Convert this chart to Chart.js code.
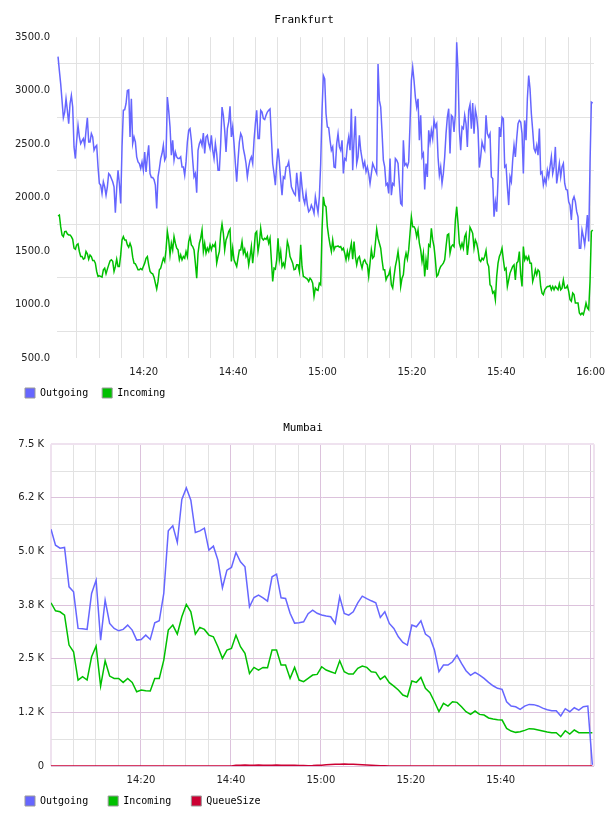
<!DOCTYPE html>
<html>
<head>
<meta charset="utf-8">
<script src="https://cdn.jsdelivr.net/npm/chart.js@4.4.1/dist/chart.umd.min.js"></script>
<style>
  html, body { margin: 0; padding: 0; background: #fff; overflow: hidden; width: 608px; height: 816px; }
  canvas { display: block; position: absolute; left: 0; }
  #frankfurt { top: 0; }
  #mumbai { top: 412px; }
</style>
</head>
<body>
<canvas id="frankfurt" width="608" height="413"></canvas>
<canvas id="mumbai" width="608" height="415"></canvas>
<script>
// ===== Data =====
// x values are minutes after 14:00
const gridMinutes = [5, 10, 15, 20, 25, 30, 35, 40, 45, 50, 55, 60, 65, 70, 75, 80, 85, 90, 95, 100, 105, 110, 115, 120];
const timeTicks = [20, 40, 60, 80, 100, 120];
const timeLabels = ['14:20', '14:40', '15:00', '15:20', '15:40', '16:00'];

// Frankfurt: one sample about every 18 s
const frankfurtStart = 0.83;
const frankfurtStep = 0.2983;
const frankfurtYTicks = [500, 750, 1000, 1250, 1500, 1750, 2000, 2250, 2500, 2750, 3000, 3250, 3500];
const frankfurtYLabels = ['500.0', '', '1000.0', '', '1500.0', '', '2000.0', '', '2500.0', '', '3000.0', '', '3500.0'];

const frankfurtOutgoing = [
  3319,3188,3064,2909,2747,2800,2924,2816,2691,2878,
  2955,2847,2474,2365,2536,2676,2567,2505,2530,2552,
  2489,2629,2747,2520,2520,2598,2567,2443,2474,2489,
  2287,2132,2117,2039,2148,2101,2023,2101,2225,2210,
  2179,2148,2101,1859,2086,2256,2132,1946,2474,2816,
  2822,2878,3002,3008,2567,2924,2505,2567,2520,2381,
  2334,2319,2272,2334,2256,2427,2241,2381,2489,2225,
  2188,2188,2169,2117,1899,2194,2272,2365,2412,2489,
  2350,2381,2940,2816,2660,2396,2536,2350,2427,2381,
  2365,2365,2381,2287,2287,2210,2334,2520,2629,
  2645,2536,2350,2194,2225,2045,2443,2505,2536,2489,
  2604,2412,2567,2583,2505,2458,2583,2443,2365,2505,
  2412,2256,2256,2505,2847,2769,2629,2427,2645,2707,
  2853,2567,2660,2505,2319,2148,2350,2520,2598,2567,
  2458,2396,2319,2194,2287,2350,2381,2319,2536,2691,
  2816,2552,2552,2816,2800,2738,2729,2769,2800,2816,
  2828,2567,2319,2225,2117,2319,2458,2334,2163,2023,
  2194,2179,2287,2294,2334,2225,2101,2070,2039,2023,
  2232,2101,1961,2241,2101,1992,1946,2039,1930,1868,
  1884,1930,1899,1853,2008,1930,1859,2008,2319,2816,
  3142,3111,
  2784,2660,2654,2536,2443,2474,2287,2281,2505,2598,
  2474,2443,2536,2225,2365,2350,2489,2567,2443,2831,
  2256,2536,2760,2319,2381,2583,2443,2365,2287,2334,
  2241,2287,2225,2132,2225,2319,2287,2256,2225,3250,
  2909,2847,2614,2350,2287,2117,2132,2039,2365,2023,
  2132,2117,2365,2350,2319,2132,1946,1930,2536,2303,
  2319,2287,2334,2691,3095,3219,3095,2940,2847,2924,
  2536,2769,2381,2412,2076,2319,2194,2629,2520,2629,
  2552,2722,2660,2691,2381,2210,2287,2132,2225,2381,
  2598,2753,2831,2412,2769,2753,2614,2784,3452,3188,
  2629,2443,
  2660,2645,2769,2691,2474,2816,2871,2645,2884,2598,
  2822,2753,2629,2281,2381,2520,2474,2443,2769,2598,
  2567,2598,2194,2179,1821,1961,1868,2163,2660,2567,
  2753,2738,2287,2303,2101,1930,2194,2148,2350,2489,
  2381,2552,2691,2722,2707,2598,2225,2722,2536,2924,
  3142,3017,2784,2629,2458,2427,2489,2396,2645,2225,
  2241,2117,2179,2132,2256,2194,2287,2381,2225,2287,
  2474,2132,2225,2319,2194,2287,2319,2132,2076,2070,
  1961,1930,1790,1977,2008,1961,1868,1821,1527,1527,
  1697,1635,1558,1682,1837,1589,2319,2893,2884
];

const frankfurtIncoming = [
  1828,1837,1728,1651,1635,1682,1685,1660,1651,1651,
  1635,1610,1527,1517,1558,1567,1496,1449,1449,1424,
  1433,1496,1474,1424,1464,1449,1412,1412,1387,1309,
  1263,1269,1263,1256,1325,1340,1287,1331,1371,1408,
  1418,1405,1309,1356,1424,1356,1356,1464,1604,1635,
  1604,1604,1558,1536,1573,1536,1443,1387,1381,1356,
  1325,1325,1337,1325,1356,1387,1433,1449,1371,1309,
  1294,1287,1256,1200,1145,1216,1325,1340,1387,1433,
  1402,1511,1682,1604,1464,1573,1511,1635,1573,1527,
  1511,1418,1464,1418,1449,1433,1496,1449,1589,
  1635,1558,1542,1511,1387,1247,1480,1573,1620,1697,
  1496,1573,1480,1527,1496,1558,1511,1558,1542,1573,
  1387,1449,1496,1666,1753,1666,1511,1604,1635,1682,
  1704,1402,1527,1418,1387,1356,1433,1511,1511,1589,
  1480,1517,1449,1480,1371,1449,1542,1387,1511,1666,
  1682,1496,1573,1713,1620,1604,1620,1610,1635,1573,
  1620,1418,1216,1340,1331,1418,1620,1418,1496,1356,
  1387,1350,1449,1589,1542,1449,1418,1387,1325,1331,
  1371,1371,1309,1558,1356,1263,1256,1247,1238,1216,
  1247,1231,1200,1076,1154,1138,1132,1200,1185,1697,
  2008,1930,
  1915,1728,1635,1558,1496,1604,1511,1542,1542,1548,
  1536,1542,1511,1527,1480,1418,1496,1433,1511,1573,
  1424,1589,1449,1371,1433,1449,1387,1340,1402,1418,
  1387,1371,1263,1387,1511,1433,1449,1573,1704,1620,
  1573,1527,1418,1325,1325,1231,1263,1278,1325,1185,
  1154,1263,1356,1418,1496,1387,1169,1247,1278,1418,
  1480,1424,1511,1666,1821,1728,1728,1704,1635,1697,
  1573,1511,1402,1480,1263,1418,1325,1558,1542,1713,
  1604,1542,1418,1263,1278,1325,1356,1371,1387,1418,
  1542,1651,1660,1480,1542,1558,1542,1790,1915,1759,
  1573,1527,
  1573,1527,1635,1666,1464,1573,1722,1697,1666,1527,
  1604,1573,1511,1418,1402,1433,1418,1449,1505,1387,
  1356,1185,1169,1107,1123,1045,1263,1387,1449,1480,
  1527,1418,1325,1340,1169,1231,1294,1325,1356,1371,
  1231,1387,1402,1496,1278,1169,1542,1418,1449,1418,
  1449,1387,1387,1216,1263,1325,1278,1325,1309,1169,
  1107,1092,1138,1154,1169,1169,1176,1138,1169,1138,
  1169,1154,1138,1194,1138,1154,1231,1154,1154,1176,
  1123,1045,1030,1107,1092,1014,1014,1014,921,905,
  921,905,952,1014,968,952,1216,1682,1697
];

// Mumbai: one sample per minute
const mumbaiStart = 0;
const mumbaiStep = 1.003;
const mumbaiYTicks = [0, 625, 1250, 1875, 2500, 3125, 3750, 4375, 5000, 5625, 6250, 6875, 7500];
const mumbaiYLabels = ['0', '', '1.2 K', '', '2.5 K', '', '3.8 K', '', '5.0 K', '', '6.2 K', '', '7.5 K'];

const mumbaiOutgoing = [
  5520,5147,5077,5093,4176,4060,3207,3200,3184,4022,
  4332,2935,3866,3323,3207,3151,3184,3284,3167,2935,
  2950,3051,2950,3338,3384,4022,5480,5597,5209,6211,
  6482,6195,5442,5480,5543,5031,5124,4798,4153,4565,
  4627,4976,4759,4642,3711,3928,3983,3920,3843,4409,
  4472,3920,3905,3560,3330,3338,3361,3550,3633,3560,
  3520,3494,3478,3323,3943,3556,3517,3594,3800,3959,
  3900,3850,3804,3463,3594,3323,3207,3012,2881,2818,
  3284,3245,3384,3074,2997,2702,2197,2352,2352,2430,
  2585,2391,2220,2112,2182,2119,2042,1950,1870,1810,
  1786,1498,1397,1381,1320,1397,1436,1430,1400,1350,
  1310,1288,1288,1165,1335,1265,1358,1304,1381,1397,
  25
];

const mumbaiIncoming = [
  3804,3617,3594,3517,2818,2663,2003,2081,2003,2546,
  2795,1863,2453,2096,2042,2042,1949,2042,1949,1731,
  1770,1754,1747,2042,2042,2469,3167,3284,3074,3478,
  3766,3594,3074,3230,3183,3051,3012,2779,2508,2702,
  2740,3051,2779,2624,2158,2298,2236,2298,2290,2702,
  2702,2352,2352,2042,2298,2003,1964,2040,2119,2135,
  2313,2236,2197,2158,2453,2197,2143,2143,2275,2329,
  2298,2197,2182,2019,2096,1941,1863,1770,1654,1615,
  1980,1949,2065,1809,1708,1498,1266,1460,1397,1498,
  1483,1382,1266,1203,1281,1203,1188,1120,1095,1080,
  1071,877,815,784,800,830,870,860,840,815,
  790,777,777,683,823,745,838,777,777,777,
  777
];

const mumbaiQueueSize = [
  0,0,0,0,0,0,0,0,0,0,
  0,0,0,0,0,0,0,0,0,0,
  0,0,0,0,0,0,0,0,0,0,
  0,0,0,0,0,0,0,0,0,0,
  0,20,18,22,15,20,25,18,20,15,
  22,20,18,15,20,12,10,8,10,15,
  20,28,35,40,42,45,42,40,35,30,
  25,18,12,8,5,2,0,0,0,0,
  0,0,0,0,0,0,0,0,0,0,
  0,0,0,0,0,0,0,0,0,0,
  0,0,0,0,0,0,0,0,0,0,
  0,0,0,0,0,0,0,0,0,0,
  0
];

// ===== Styles =====
const colors = {
  outgoing: '#6666ff',
  incoming: '#00c000',
  queue: '#cc0033',
  grid: '#e2e2e2',
  major: '#dcc2dc',
  frame: '#efe2ef',
  tick: '#222222'
};
const tickFont = { family: 'DejaVu Sans', size: 10 };
const monoFont = { family: 'DejaVu Sans Mono', size: 11, weight: 'normal' };
const legendFont = { family: 'DejaVu Sans Mono', size: 10 };

// ===== Helpers =====
function toPoints(values, start, step) {
  return values.map((v, i) => ({ x: start + i * step, y: v }));
}

function lineDataset(label, values, start, step, color) {
  return {
    label: label,
    data: toPoints(values, start, step),
    borderColor: color,
    backgroundColor: color,
    borderWidth: 1.5,
    pointRadius: 0,
    tension: 0,
    fill: false
  };
}

function timeLabel(value, lastIndex) {
  const i = timeTicks.indexOf(value);
  return (i >= 0 && i <= lastIndex) ? timeLabels[i] : '';
}

function legendOptions(padding) {
  return {
    position: 'bottom',
    align: 'start',
    labels: {
      boxWidth: 10,
      boxHeight: 10,
      padding: padding,
      color: '#000',
      font: legendFont,
      generateLabels: chart => chart.data.datasets.map((ds, i) => ({
        text: ds.label,
        fillStyle: ds.borderColor,
        strokeStyle: '#999',
        lineWidth: 1,
        hidden: false,
        datasetIndex: i
      }))
    }
  };
}

function titleOptions(text, bottomPad) {
  return {
    display: true,
    text: text,
    color: '#000',
    font: monoFont,
    padding: { top: 6, bottom: bottomPad }
  };
}

// x axis: no room reserved for the clipped last label, and a fixed height
function fitTimeAxis(axis) {
  axis.paddingLeft = 0;
  axis.paddingRight = 14;
  axis.height = 21;
}

// Moves the legend row up a little (the labels padding also sets the gap between items)
const legendShift = {
  id: 'legendShift',
  afterLayout(chart, args, opts) {
    if (chart.legend && opts.dy) {
      chart.legend.top -= opts.dy;
      chart.legend.bottom -= opts.dy;
    }
  }
};

// ===== Frankfurt =====
new Chart(document.getElementById('frankfurt'), {
  type: 'line',
  data: {
    datasets: [
      lineDataset('Outgoing', frankfurtOutgoing, frankfurtStart, frankfurtStep, colors.outgoing),
      lineDataset('Incoming', frankfurtIncoming, frankfurtStart, frankfurtStep, colors.incoming)
    ]
  },
  plugins: [legendShift],
  options: {
    responsive: false,
    animation: false,
    events: [],
    layout: { padding: { top: 8, left: 11, right: 11, bottom: 0 } },
    plugins: {
      title: titleOptions('Frankfurt', 10),
      legend: legendOptions(14),
      legendShift: { dy: 5 },
      tooltip: { enabled: false }
    },
    scales: {
      x: {
        type: 'linear',
        min: 0.6,
        max: 120.74,
        afterBuildTicks: axis => { axis.ticks = gridMinutes.map(v => ({ value: v })); },
        afterFit: fitTimeAxis,
        grid: { color: colors.grid, drawTicks: false },
        border: { display: false },
        ticks: {
          autoSkip: false, maxRotation: 0, padding: 8,
          color: colors.tick, font: tickFont,
          callback: v => timeLabel(v, 5)
        }
      },
      y: {
        min: 500,
        max: 3500,
        afterBuildTicks: axis => { axis.ticks = frankfurtYTicks.map(v => ({ value: v })); },
        afterFit: axis => { axis.width = 46; },
        grid: {
          drawTicks: false,
          color: ctx => (ctx.tick && frankfurtYLabels[frankfurtYTicks.indexOf(ctx.tick.value)] === '') ? colors.grid : 'rgba(0,0,0,0)'
        },
        border: { display: false },
        ticks: {
          autoSkip: false, padding: 7,
          color: colors.tick, font: tickFont,
          callback: (v, i) => frankfurtYLabels[i]
        }
      }
    }
  }
});

// ===== Mumbai =====
const mumbaiMaxX = 120.73;
const mumbaiXTicks = [0].concat(gridMinutes, [mumbaiMaxX]);

new Chart(document.getElementById('mumbai'), {
  type: 'line',
  data: {
    datasets: [
      lineDataset('Outgoing', mumbaiOutgoing, mumbaiStart, mumbaiStep, colors.outgoing),
      lineDataset('Incoming', mumbaiIncoming, mumbaiStart, mumbaiStep, colors.incoming),
      lineDataset('QueueSize', mumbaiQueueSize, mumbaiStart, mumbaiStep, colors.queue)
    ]
  },
  plugins: [legendShift],
  options: {
    responsive: false,
    animation: false,
    events: [],
    layout: { padding: { top: 4, left: 5, right: 7, bottom: 0 } },
    plugins: {
      title: titleOptions('Mumbai', 9),
      legend: legendOptions(20),
      legendShift: { dy: 11 },
      tooltip: { enabled: false }
    },
    scales: {
      x: {
        type: 'linear',
        min: 0,
        max: mumbaiMaxX,
        afterBuildTicks: axis => { axis.ticks = mumbaiXTicks.map(v => ({ value: v })); },
        afterFit: fitTimeAxis,
        grid: {
          drawTicks: false,
          color: ctx => {
            const v = ctx.tick ? ctx.tick.value : 1;
            if (v === 0 || v === mumbaiMaxX) return colors.frame;
            return v % 20 === 0 ? colors.major : colors.grid;
          },
          lineWidth: ctx => (ctx.tick && (ctx.tick.value === 0 || ctx.tick.value === mumbaiMaxX)) ? 2 : 1
        },
        border: { display: false },
        ticks: {
          autoSkip: false, maxRotation: 0, padding: 8,
          color: colors.tick, font: tickFont,
          callback: v => timeLabel(v, 4)
        }
      },
      y: {
        min: 0,
        max: 7500,
        afterBuildTicks: axis => { axis.ticks = mumbaiYTicks.map(v => ({ value: v })); },
        afterFit: axis => { axis.width = 46; },
        grid: {
          drawTicks: false,
          color: ctx => {
            const v = ctx.tick ? ctx.tick.value : 1;
            if (v === 7500) return colors.frame;
            return mumbaiYLabels[mumbaiYTicks.indexOf(v)] !== '' ? colors.major : colors.grid;
          },
          lineWidth: ctx => (ctx.tick && ctx.tick.value === 7500) ? 2 : 1
        },
        border: { display: false },
        ticks: {
          autoSkip: false, padding: 7,
          color: colors.tick, font: tickFont,
          callback: (v, i) => mumbaiYLabels[i]
        }
      }
    }
  }
});
</script>
</body>
</html>
